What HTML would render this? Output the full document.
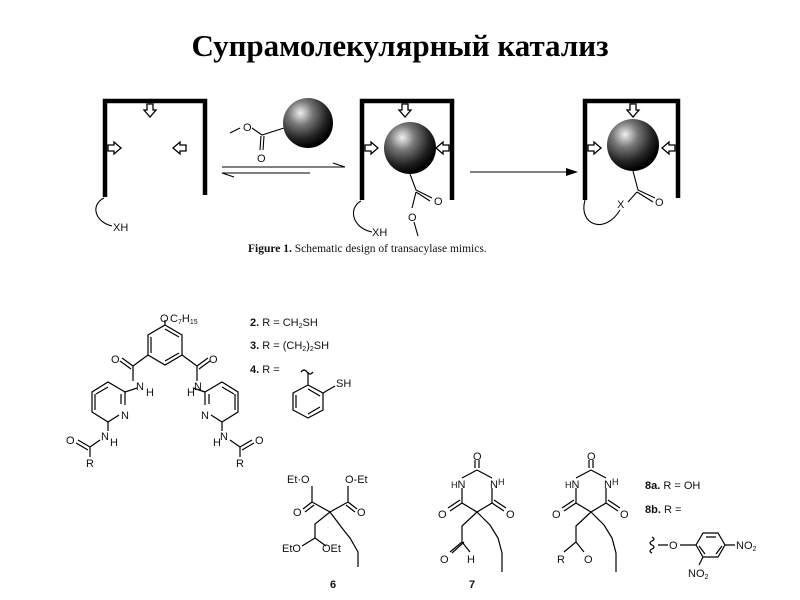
<!DOCTYPE html>
<html><head><meta charset="utf-8"><style>
html,body{margin:0;padding:0;background:#fff;width:800px;height:600px;overflow:hidden}
svg{display:block}
.t{font-family:"Liberation Sans",sans-serif;font-size:11px;fill:#111}
.b{font-weight:bold}
</style></head><body>
<svg width="800" height="600" viewBox="0 0 800 600" xmlns="http://www.w3.org/2000/svg">
<defs>
<radialGradient id="g" cx="35%" cy="30%" r="70%">
<stop offset="0" stop-color="#f0f0f0"/><stop offset="0.35" stop-color="#777"/><stop offset="0.75" stop-color="#222"/><stop offset="1" stop-color="#000"/>
</radialGradient>
<g id="da"><path d="M-3,0 h6 v6 h3 l-6,7 l-6,-7 h3 z" fill="#fff" stroke="#000" stroke-width="1.3"/></g>
<g id="ra"><path d="M0,-3 v6 h6 v3 l7,-6 l-7,-6 v3 z" fill="#fff" stroke="#000" stroke-width="1.3"/></g>
<g id="la"><path d="M0,-3 v6 h-6 v3 l-7,-6 l7,-6 v3 z" fill="#fff" stroke="#000" stroke-width="1.3"/></g>
</defs>
<text x="400" y="56" text-anchor="middle" font-family="Liberation Serif,serif" font-weight="bold" font-size="31" fill="#000">Супрамолекулярный катализ</text>

<g fill="none" stroke="#000" stroke-width="4.5">
<path d="M105,197 V101 H205 V195"/>
<path d="M362,200 V101 H452 V200"/>
<path d="M585,200 V101 H678 V198"/>
</g>
<use href="#da" x="150" y="104"/><use href="#ra" x="108" y="148"/><use href="#la" x="186" y="148"/>
<use href="#da" x="405" y="104"/><use href="#ra" x="365" y="148"/><use href="#la" x="449" y="148"/>
<use href="#da" x="633" y="104"/><use href="#ra" x="588" y="148"/><use href="#la" x="675" y="148"/>
<g fill="none" stroke="#000" stroke-width="1.1">
<path d="M104,198 C90,205 95,222 112,226"/>
<path d="M361,201 C348,208 352,228 372,232"/>
<path d="M585,200 C578,225 605,235 620,210"/>
<path d="M230,133 L240,128 M252,128 L262,135 L284,128"/><path d="M261,136 L260,150 M264,136 L263,150"/>
<path d="M222,167 H345 M222,173 H310"/><path d="M345,167 L333,163" /><path d="M222,173 L234,177"/>
<path d="M410,174 L416,190 L432,198 M416,192 L430,201 M416,192 L412,208 M414,222 L418,236"/>
<path d="M633,171 L638,190 L655,198 M637,192 L653,202 M637,192 L628,202"/>
<path d="M470,172 H570"/>
</g>
<path d="M578,172 L566,168 L566,176 Z" fill="#000"/>
<text class="t" x="243" y="131">O</text><text class="t" x="257" y="162">O</text>
<circle cx="308" cy="123" r="25" fill="url(#g)"/>
<circle cx="410" cy="148" r="26" fill="url(#g)"/>
<circle cx="633" cy="145" r="26" fill="url(#g)"/>
<text class="t" x="113" y="231">XH</text><text class="t" x="372" y="236">XH</text>
<text class="t" x="434" y="205">O</text><text class="t" x="408" y="221">O</text>
<text class="t" x="617" y="208">X</text><text class="t" x="655" y="206">O</text>
<text x="248" y="252" font-family="Liberation Serif,serif" font-size="11.5" fill="#111"><tspan font-weight="bold">Figure 1.</tspan> Schematic design of transacylase mimics.</text>

<!-- compound 2-4 -->
<g fill="none" stroke="#000" stroke-width="1.2">
<path d="M165,325 L182,335 L182,355 L165,365 L148,355 L148,335 Z"/>
<path d="M165,329 L179,337 M179,353 L165,361 M151,353 L151,337"/>
<path d="M165,325 V320"/>
<g id="half">
<path d="M148,355 L133,366 M133,366 L122,358 M131,369 L120,361 M133,366 V381 M137,388 L125,392"/>
<path d="M125,392 L108,382 L92,392 L92,412 L108,422 L119,415 M125,392 L125,405 M96,394 L108,387 M95,394 V410 M121,394 V404"/>
<path d="M108,422 V431 M100,440 L90,447 M90,447 L78,440 M88,450 L76,443 M90,447 V457"/>
</g>
<use href="#half" transform="translate(330,0) scale(-1,1)"/>
<path d="M293,393 L308,385 L323,393 L323,410 L308,418 L293,410 Z M296,395 L296,408 M308,414 L320,407 M308,389 L320,396"/>
<path d="M308,385 V372 M323,393 L335,386"/>
<path d="M301,372 q3,-4 6,0 t6,0" />
</g>
<text class="t" x="160" y="322">O</text><text class="t" x="170" y="322" font-size="10">C<tspan font-size="7" dy="2">7</tspan><tspan dy="-2">H</tspan><tspan font-size="7" dy="2">15</tspan></text>
<text class="t" x="111" y="363">O</text><text class="t" x="209" y="363">O</text>
<text class="t" x="136" y="390">N</text><text class="t" x="146" y="396">H</text>
<text class="t" x="187" y="396">H</text><text class="t" x="194" y="390">N</text>
<text class="t" x="121" y="419">N</text><text class="t" x="201" y="419">N</text>
<text class="t" x="101" y="440">N</text><text class="t" x="110" y="446">H</text>
<text class="t" x="213" y="446">H</text><text class="t" x="220" y="440">N</text>
<text class="t" x="66" y="444">O</text><text class="t" x="255" y="444">O</text>
<text class="t" x="86" y="467">R</text><text class="t" x="236" y="467">R</text>
<text class="t" x="250" y="326"><tspan class="b">2.</tspan> R = CH<tspan font-size="7" dy="2">2</tspan><tspan dy="-2">SH</tspan></text>
<text class="t" x="250" y="349"><tspan class="b">3.</tspan> R = (CH<tspan font-size="7" dy="2">2</tspan><tspan dy="-2">)</tspan><tspan font-size="7" dy="2">2</tspan><tspan dy="-2">SH</tspan></text>
<text class="t" x="250" y="373"><tspan class="b">4.</tspan> R =</text>
<text class="t" x="336" y="387">SH</text>

<!-- compound 6 -->
<g fill="none" stroke="#000" stroke-width="1.2">
<path d="M330,512 L312,502 M312,502 V486 M312,502 L303,509 M314,505 L305,512"/>
<path d="M330,512 L348,502 M348,502 V486 M348,502 L357,509 M346,505 L355,512"/>
<path d="M330,512 L315,524 V538 M315,538 L302,546 M315,538 L326,546"/>
<path d="M330,512 L342,528 L350,538 L358,552 V567"/>
</g>
<text class="t" x="287" y="483">Et·O</text><text class="t" x="345" y="483">O-Et</text>
<text class="t" x="293" y="516">O</text><text class="t" x="357" y="516">O</text>
<text class="t" x="282" y="552">EtO</text><text class="t" x="322" y="552">OEt</text>
<text class="t b" x="330" y="588">6</text>

<!-- compound 7 & 8 -->
<g id="barb" fill="none" stroke="#000" stroke-width="1.2">
<path d="M477,470 L462,478 M477,470 L492,478 M475,468 V460 M479,468 V460"/>
<path d="M462,488 V503 L477,512 L492,503 V488"/>
<path d="M462,503 L450,511 M460,500 L448,508 M492,503 L504,511 M494,500 L506,508"/>
<path d="M477,512 L462,526 V542 L450,552 M462,542 L470,552"/>
<path d="M477,512 L490,525 L498,538 L502,553 V572"/>
</g>
<use href="#barb" x="114" y="0"/>
<g fill="none" stroke="#000" stroke-width="1.2"><path d="M464,542 L452,553"/></g>
<text class="t" x="473" y="460">O</text><text class="t" x="587" y="460">O</text>
<text class="t" x="451" y="488"><tspan font-size="9">H</tspan>N</text><text class="t" x="490" y="488">N<tspan font-size="9" dy="-3">H</tspan></text>
<text class="t" x="565" y="488"><tspan font-size="9">H</tspan>N</text><text class="t" x="604" y="488">N<tspan font-size="9" dy="-3">H</tspan></text>
<text class="t" x="438" y="518">O</text><text class="t" x="506" y="518">O</text>
<text class="t" x="552" y="518">O</text><text class="t" x="620" y="518">O</text>
<text class="t" x="440" y="563">O</text><text class="t" x="467" y="563">H</text>
<text class="t" x="557" y="563">R</text><text class="t" x="584" y="563">O</text>
<text class="t b" x="469" y="588">7</text>

<text class="t" x="645" y="489"><tspan class="b">8a.</tspan> R = OH</text>
<text class="t" x="645" y="513"><tspan class="b">8b.</tspan> R =</text>
<g fill="none" stroke="#000" stroke-width="1.2">
<path d="M696,545 L703,533 L718,533 L725,545 L718,557 L703,557 Z M706,537 H716 M722,546 L716,554 M705,554 L699,546"/>
<path d="M658,545 H668 M680,545 H696 M725,545 H735 M703,557 L699,565"/>
<path d="M652,537 q4,2 0,4 t0,4 t0,4 t0,4"/>
</g>
<text class="t" x="669" y="549">O</text>
<text class="t" x="736" y="549">NO<tspan font-size="7" dy="2">2</tspan></text>
<text class="t" x="688" y="577">NO<tspan font-size="7" dy="2">2</tspan></text>
</svg>
</body></html>
